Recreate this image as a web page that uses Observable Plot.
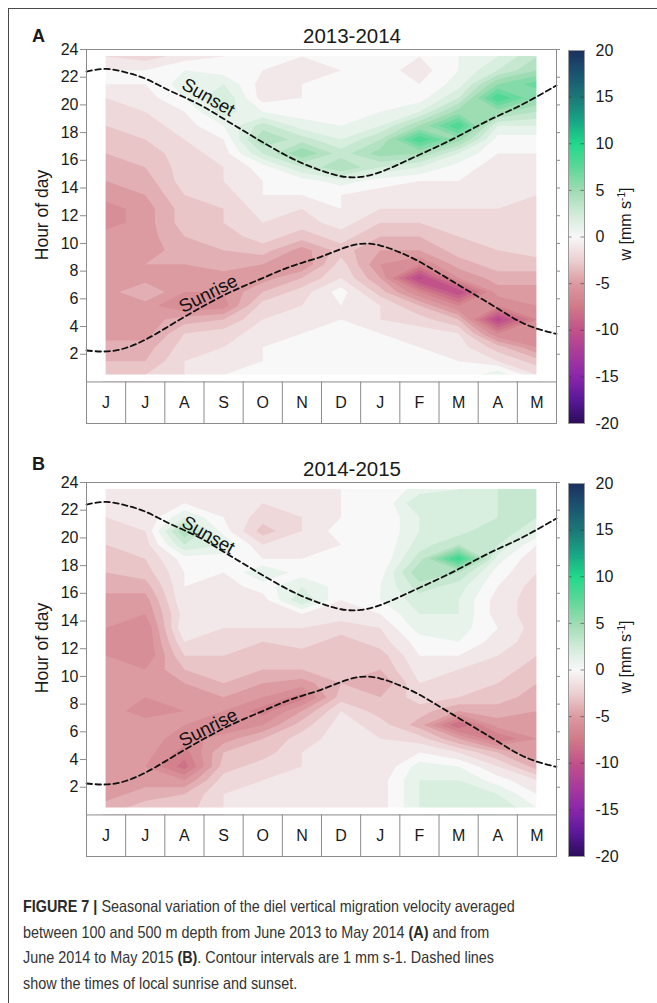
<!DOCTYPE html>
<html>
<head>
<meta charset="utf-8">
<script src="https://cdn.jsdelivr.net/npm/d3@7"></script>
<script src="https://cdn.jsdelivr.net/npm/@observablehq/plot@0.6"></script>
<style>
html, body { margin: 0; padding: 0; background: #fff; overflow: hidden; }
#page { position: relative; width: 657px; height: 1003px; overflow: hidden; background: #fff;
        font-family: "Liberation Sans", Arial, Helvetica, sans-serif; color: #1a1a1a; }
#border { position: absolute; left: 8px; top: 8px; width: 900px; height: 1200px;
          border-left: 1.5px solid #4a4a4a; border-top: 1.5px solid #4a4a4a; }
.holder { position: absolute; left: 0; width: 657px; height: 440px; }
.holder svg { max-width: none !important; }
.abs { position: absolute; line-height: 1; white-space: nowrap; transform: translate(-50%, -50%); }
.rot { transform: translate(-50%, -50%) rotate(-90deg); }
.letter { font-weight: bold; font-size: 18px; }
.title { font-size: 20.5px; }
.axlab { font-size: 17.5px; }
.cblab { font-size: 16px; }
.cblab sup { font-size: 10px; vertical-align: 6px; }
#caption { position: absolute; left: 23px; top: 894px; font-family: "Liberation Sans", Arial, sans-serif;
           font-size: 16.5px; line-height: 25.5px; color: #333; white-space: nowrap;
           transform: scaleX(0.872); transform-origin: 0 0; }
#caption b { color: #2a2a2a; }
</style>
</head>
<body>
<div id="page">
  <div id="border"></div>
  <div id="caption">
    <div><b>FIGURE 7 |</b> Seasonal variation of the diel vertical migration velocity averaged</div>
    <div>between 100 and 500 m depth from June 2013 to May 2014 <b>(A)</b> and from</div>
    <div>June 2014 to May 2015 <b>(B)</b>. Contour intervals are 1 mm s-1. Dashed lines</div>
    <div>show the times of local sunrise and sunset.</div>
  </div>
</div>
<script>
// ---------- chart data ----------
const months = ["J", "J", "A", "S", "O", "N", "D", "J", "F", "M", "A", "M"];
const hourTicks = [2, 4, 6, 8, 10, 12, 14, 16, 18, 20, 22, 24];
const colorTicks = [-20, -15, -10, -5, 0, 5, 10, 15, 20];
const colorStops = [-20, -17.5, -15, -12.5, -10, -7.5, -5, -2.5, 0, 2.5, 5, 7.5, 10, 12.5, 15, 17.5, 20];
const colorRange = ["#2b0c5a", "#5a1898", "#8a26ab", "#a93b9c", "#c1528a", "#d07a88", "#dc9ba0", "#ecd0d2",
                    "#f8f8f8", "#d0ebd8", "#9edcb2", "#5cd898", "#1fd98a", "#18a585", "#1b7878", "#1a5470", "#1c3060"];
const contourLevels = d3.range(-20, 21, 1); // contour interval 1 mm/s

// sunrise / sunset (hour of day) at half-month steps, June -> May
const sunMonth = [0, 0.5, 1, 1.5, 2, 2.5, 3, 3.5, 4, 4.5, 5, 5.5, 6, 6.5, 7, 7.5, 8, 8.5, 9, 9.5, 10, 10.5, 11, 11.5, 12];
const sunsetHour = [22.41, 22.6, 22.35, 21.9, 21.2, 20.55, 19.85, 19.0, 18.15, 17.3, 16.5, 15.8, 15.25, 14.85, 14.8,
                    15.15, 15.75, 16.4, 17.05, 17.75, 18.5, 19.2, 19.85, 20.6, 21.4];
const sunriseHour = [2.27, 2.2, 2.45, 3.05, 3.85, 4.7, 5.5, 6.25, 6.9, 7.5, 8.1, 8.6, 9.05, 9.6, 9.97,
                     9.85, 9.35, 8.68, 7.85, 7.0, 6.15, 5.3, 4.45, 3.85, 3.47];

const lineLabels = ["Sunset", "Sunrise"];
const labelMonth = [3.11, 3.11];
const labelAngle = [30, -27];
const labelHourA = [20.55, 6.37];
const labelHourB = [20.2, 6.3];

// vertical velocity w (mm/s): one column per month (Jun..May), hours 23:30 (top) -> 00:30 (bottom)
const w2013 = [
  [-1, 0, 0, -1, -1.5, -2, -2.5, -3, -3.5, -4, -4.5, -5.5, -5.5, -4.5, -4.5, -4.5, -4.5, -4.5, -5, -4.5, -4.5, -3.5, -3, -2.5],
  [-1.5, 0, 0, -0.5, -1, -1.5, -2, -2.5, -3, -3.5, -4, -4.5, -4.5, -4.5, -4.5, -4, -4.5, -3, -4.5, -4.5, -4.5, -3.5, -3, -2],
  [-0.5, 1, 1.5, 1, 0, -0.5, -1, -1.5, -1.5, -1.5, -2, -2.5, -2.5, -3, -3.5, -4, -4.5, -5, -6, -3.5, -2, -1.5, -1, -1],
  [0, 0.5, 2, 3, 2.5, 1, 0, -0.5, -1, -1, -1.5, -2, -2, -2.5, -3, -3.5, -4.5, -5, -5.5, -3, -1.5, -1, -0.5, 0],
  [0, 0, -0.5, -0.5, 1, 3.5, 5, 3, 0.5, 0, 0, -0.5, -1, -1.5, -2.5, -4, -4.5, -3, -1.5, -1, -0.5, 0, 0, 0],
  [0, -0.5, 0, 0, 0.5, 1.5, 3.5, 6, 3, 0.5, 0, -1, -1.5, -2.5, -4.5, -5, -3, -1.5, -1, -0.5, 0, 0, 0, 0],
  [0, 0, 0, 0.5, 0.5, 1, 2, 3.5, 5, 1.5, 0, 0, -0.5, -1.5, -2.5, -1.5, -1, 0.5, 0, 0, 0, 0, 0, 0],
  [0.5, 0.5, 0.5, 0.5, 1, 2, 4, 5.5, 3, 0.5, -0.5, -1, -2, -3, -4, -5, -4, -2.5, -1, -1, 0, 0, 0, 0],
  [0, -0.5, 0, 0.5, 2, 5, 9, 5, 2, 0, -0.5, -1, -2, -3, -4, -6, -10.5, -6, -3, -1.5, -0.5, 0, 0, 0],
  [1, 1, 1.5, 3, 5.5, 9, 5.5, 2, 0.5, 0, -0.5, -1, -1.5, -2, -2.5, -3.5, -5, -10, -6, -3, -1, -0.5, 0, 0],
  [2, 3, 6, 9, 5.5, 2, 0.5, 0, -0.5, -1, -1, -1, -1.5, -1.5, -2, -2.5, -3.5, -4.5, -6, -10.5, -6, -2.5, -1, 2],
  [4, 5, 7.5, 6, 4, 2, 0.5, 0, -0.5, -1, -1, -1.5, -1, -1, -1.5, -2.5, -3.5, -4.5, -5, -6, -6, -5, -2.5, -1]
];
const w2014 = [
  [-1, -1, -1, -1.5, -2, -2.5, -3, -3.5, -4.5, -5, -5, -6, -5, -4.5, -4.5, -4.5, -4.5, -4.5, -4.5, -4.5, -5, -4.5, -4.5, -3.5],
  [-0.5, -0.5, -1, -1, -1.5, -2, -2.5, -3.5, -4.5, -5, -6, -6, -6, -5, -4.5, -5, -5.5, -4.5, -4.5, -4.5, -5, -4.5, -3.5, -2.5],
  [-0.5, 0, 2, 5, 3, 0.5, 0, 0, 0, -0.5, 0, -1, -2, -3, -4, -4.5, -5, -5, -5.5, -6.5, -7.5, -5, -3, -2.5],
  [-0.5, -0.5, 0, 0.5, 2, 0.5, 0, -0.5, -1, -1, -1, -1.5, -2, -2.5, -3, -4, -5, -6, -4.5, -3, -2.5, -1.5, -1, -1],
  [-1, -1, -1.5, -2.5, -1, 0, 2, 0.5, -0.5, -1, -1, -2, -2.5, -3, -4, -5, -6.5, -5, -3, -2.5, -1.5, -1, -1, -1],
  [-1, -1, -1, -1, -0.5, 0, 0.5, 2, 3, 0, -1, -1.5, -2.5, -3, -4.5, -6.5, -4, -2.5, -1.5, -1, -1, -1, -1, -1],
  [0, 0, 0, 0.5, 0, 0, 0, 0.5, 0, -0.5, -1.5, -2.5, -3, -3, -3, -2.5, -1, -0.5, -0.5, -1, -1, -1, -0.5, -0.5],
  [0, 0, 0, 0, 0, 0, 0.5, 1, 1, 0, -1, -1.5, -2.5, -3, -4, -3, -2.5, -1.5, -1, -1, -1, -0.5, -0.5, -0.5],
  [1.5, 3, 2, 2, 2.5, 3.5, 5, 3.5, 2.5, 2, 1.5, 0.5, 0, -0.5, -1, -1.5, -2.5, -3.5, -1.5, 0, 1.5, 2, 2, 2],
  [2, 2, 2, 2.5, 4, 9.5, 4, 2.5, 2, 2, 1.5, 1, 0, -1, -1.5, -2, -4, -8, -4, -1, 1, 2, 2, 2],
  [3, 3, 3, 4, 3, 1.5, 0.5, 0, -0.5, -0.5, 0, -0.5, -1, -1.5, -2, -2.5, -3.5, -4.5, -7, -3, -1, 0.5, 2, 3],
  [3, 3, 3, 2, 0, -1, -1, -1.5, -1.5, -1.5, -1.5, -1.5, -2, -2.5, -3, -3.5, -4, -4.5, -5, -5, -3.5, -1, 0, 1]
];

// ---------- helpers ----------
const colorOpts = {type: "linear", domain: colorStops, range: colorRange, interpolate: "rgb", clamp: true};
const sun = sunMonth.map((m, i) => ({m, rise: sunriseHour[i], set: sunsetHour[i]}));
const gridLine = "#8c8c8c";
const fontFamily = "'Liberation Sans', Arial, Helvetica, sans-serif";

function gridFrom(columns) {
  const nx = columns.length, ny = columns[0].length;
  const values = new Array(nx * ny);
  for (let j = 0; j < ny; ++j)
    for (let i = 0; i < nx; ++i) values[j * nx + i] = columns[i][ny - 1 - j];
  return {values, nx, ny};
}

function panel(columns, labelHours) {
  const {values, nx, ny} = gridFrom(columns);
  const mx = 0.5, my = 24 / ny / 2; // half a cell: data cover cell centres only
  const masks = [
    {x1: 0, x2: mx, y1: 0, y2: 24}, {x1: nx - mx, x2: nx, y1: 0, y2: 24},
    {x1: 0, x2: nx, y1: 0, y2: my}, {x1: 0, x2: nx, y1: 24 - my, y2: 24}
  ];
  const labels = lineLabels.map((t, i) => ({t, m: labelMonth[i], h: labelHours[i], a: labelAngle[i]}));
  return Plot.plot({
    width: 570, height: 440,
    marginLeft: 86, marginRight: 14, marginTop: 49, marginBottom: 17,
    style: {fontFamily, fontSize: "16px", background: "transparent", overflow: "visible", maxWidth: "none"},
    x: {domain: [0, 12], axis: null},
    y: {domain: [-3, 24]},
    color: colorOpts,
    marks: [
      Plot.contour(values, {width: nx, height: ny, x1: 0, x2: nx, y1: 0, y2: 24,
                            fill: Plot.identity, thresholds: contourLevels, stroke: "none"}),
      Plot.rect(masks, {x1: "x1", x2: "x2", y1: "y1", y2: "y2", fill: "white"}),
      Plot.line(sun, {x: "m", y: "set", stroke: "#111", strokeWidth: 1.8, strokeDasharray: "5.5,3.5", curve: "natural"}),
      Plot.line(sun, {x: "m", y: "rise", stroke: "#111", strokeWidth: 1.8, strokeDasharray: "5.5,3.5", curve: "natural"}),
      Plot.text(labels, {x: "m", y: "h", text: "t", rotate: "a", fontSize: 18.5, fill: "#111"}),
      Plot.ruleY([0], {stroke: gridLine}),
      Plot.ruleX(d3.range(1, 12), {y1: -3, y2: 0, stroke: gridLine}),
      Plot.text(months, {x: (d, i) => i + 0.5, y: -1.5, text: d => d, fontSize: 16, fill: "#1a1a1a"}),
      Plot.frame({stroke: gridLine}),
      Plot.axisY(hourTicks, {anchor: "left", tickSize: 6, tickPadding: 2, stroke: gridLine, fill: "#1a1a1a",
                             fontSize: 16, tickFormat: d => String(d), label: null}),
      Plot.axisY(hourTicks, {anchor: "right", tickSize: 3, stroke: gridLine, tickFormat: () => "", label: null})
    ]
  });
}

function colorbar() {
  return Plot.plot({
    width: 97, height: 440,
    marginLeft: 8, marginRight: 73, marginTop: 50, marginBottom: 17,
    style: {fontFamily, fontSize: "16px", background: "transparent", overflow: "visible", maxWidth: "none"},
    x: {domain: [0, 1], axis: null},
    y: {domain: [-20, 20]},
    color: colorOpts,
    marks: [
      Plot.raster({x1: 0, x2: 1, y1: -20, y2: 20, width: 1, height: 400, fill: (x, y) => y}),
      Plot.ruleY(colorTicks.slice(1, -1), {x1: 0, x2: 0.22, stroke: "#333", strokeOpacity: 0.55}),
      Plot.ruleY(colorTicks.slice(1, -1), {x1: 0.78, x2: 1, stroke: "#333", strokeOpacity: 0.55}),
      Plot.frame({stroke: "#9a9a9a"}),
      Plot.axisY(colorTicks, {anchor: "right", tickSize: 0, tickPadding: 11, fontSize: 16, fill: "#1a1a1a",
                              textAnchor: "start", tickFormat: d => String(d), label: null})
    ]
  });
}

const page = document.getElementById("page");
function addAbs(html, cls, x, y) {
  const d = document.createElement("div");
  d.className = "abs " + cls;
  d.style.left = x + "px";
  d.style.top = y + "px";
  d.innerHTML = html;
  page.appendChild(d);
}

[[w2013, labelHourA, 0, "A", "2013-2014", 35.5], [w2014, labelHourB, 432.5, "B", "2014-2015", 31.5]]
  .forEach(([cols, lh, top, letter, title, letterDy]) => {
    const h = document.createElement("div");
    h.className = "holder";
    h.style.top = top + "px";
    const p = panel(cols, lh);
    p.style.position = "absolute"; p.style.left = "0px"; p.style.top = "0px";
    const cb = colorbar();
    cb.style.position = "absolute"; cb.style.left = "560px"; cb.style.top = "0px";
    h.appendChild(p); h.appendChild(cb);
    page.appendChild(h);
    addAbs(letter, "letter", 38.5, top + letterDy);
    addAbs(title, "title", 352, top + 36);
    addAbs("Hour of day", "axlab rot", 43, top + 215);
    addAbs("w [mm s<sup>-1</sup>]", "cblab rot", 625, top + 224);
  });
</script>
</body>
</html>
